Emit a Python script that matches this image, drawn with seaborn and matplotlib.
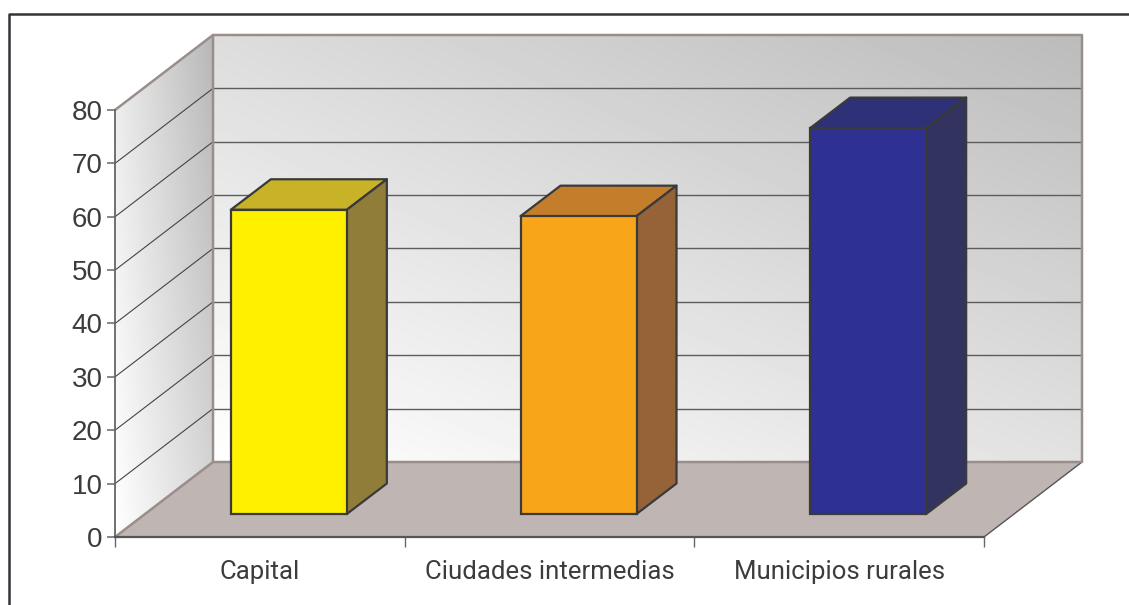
import numpy as np
import seaborn as sns
import matplotlib.pyplot as plt
from matplotlib.lines import Line2D
from matplotlib.patches import Polygon

categories = ["Capital", "Ciudades intermedias", "Municipios rurales"]
values = [57.0, 55.8, 72.3]
y_ticks = [0, 10, 20, 30, 40, 50, 60, 70, 80]

front_colors = ["#FFF000", "#F9A51A", "#2E3192"]
top_colors = ["#C8B228", "#C47E2B", "#2E3178"]
side_colors = ["#917D3A", "#966338", "#333360"]

W, H = 1129, 605
# front plane of the chart in pixels
X0, X1, Y0, Y80 = 115, 984, 537, 110
PX_X = (X1 - X0) / 3
PX_Y = (Y0 - Y80) / 80
# depth of the floor, in data units
DX = 98 / PX_X
DY = 75 / PX_Y
# where the bars sit inside the depth
BAR_SHIFT = 29 / PX_X
BAR_BOTTOM = 23 / PX_Y
BAR_DX = 40 / PX_X
BAR_DY = 30.5 / PX_Y
BAR_WIDTH = 116 / PX_X

WALL = "#9A8E8A"
EDGE = "#3A3A3A"
TEXT = "#3C3C3C"


def gradient(ax, extent, corners, clip):
    """Paint a grey gradient (ll, lr, ul, ur) clipped to a polygon."""
    u, v = np.meshgrid(np.linspace(0, 1, 128), np.linspace(0, 1, 128))
    ll, lr, ul, ur = corners
    img = ll * (1 - u) * (1 - v) + lr * u * (1 - v) + ul * (1 - u) * v + ur * u * v
    im = ax.imshow(img, extent=extent, origin="lower", cmap="gray", vmin=0, vmax=1,
                   aspect="auto", interpolation="bilinear", zorder=0)
    im.set_clip_path(Polygon(clip, transform=ax.transData))


sns.set_theme(style="white")
plt.rcParams["font.family"] = ["Liberation Sans", "DejaVu Sans"]

fig = plt.figure(figsize=(W / 100, H / 100), dpi=100)
ax = fig.add_axes([0, 0, 1, 1])
ax.patch.set_alpha(0)

xlim = (-0.5 - X0 / PX_X, -0.5 + (W - X0) / PX_X)
ylim = (-(H - Y0) / PX_Y, Y0 / PX_Y)
xl, xr = -0.5, 2.5
top = y_ticks[-1]

# back wall and left wall
gradient(ax, (xl + DX, xr + DX, DY, top + DY), (1.0, 0.885, 0.865, 0.735),
         [(xl + DX, DY), (xr + DX, DY), (xr + DX, top + DY), (xl + DX, top + DY)])
gradient(ax, (xl, xl + DX, 0, top + DY), (1.0, 0.84, 0.92, 0.72),
         [(xl, 0), (xl + DX, DY), (xl + DX, top + DY), (xl, top)])

# gridlines over both walls
for v in y_ticks[1:-1]:
    ax.plot([xl, xl + DX], [v, v + DY], color="#444444", lw=0.8, zorder=1)
    ax.plot([xl + DX, xr + DX], [v + DY, v + DY], color="#5C5C5C", lw=1.0, zorder=1)

# floor
ax.add_patch(Polygon([(xl, 0), (xr, 0), (xr + DX, DY), (xl + DX, DY)],
                     facecolor="#BFB5B2", edgecolor="none", zorder=1.5))
ax.plot([xr, xr + DX], [0, DY], color="#555555", lw=1, zorder=1.6)

# wall outlines
ax.plot([xl, xl + DX, xl + DX], [0, DY, top + DY], color=WALL, lw=1.8, zorder=1.7)
ax.plot([xl + DX, xr + DX, xr + DX, xl + DX, xl],
        [DY, DY, top + DY, top + DY, top], color=WALL, lw=1.8, zorder=1.7)

sns.barplot(x=categories, y=values, hue=categories, palette=front_colors, saturation=1,
            width=BAR_WIDTH, edgecolor=EDGE, linewidth=1.6, legend=False, ax=ax, zorder=3)

# turn the flat bars into boxes
for i, p in enumerate(ax.patches[-3:]):
    p.set_x(p.get_x() + BAR_SHIFT)
    p.set_y(BAR_BOTTOM)
    x, w, h = p.get_x(), p.get_width(), p.get_height()
    y_top = BAR_BOTTOM + h
    ax.add_patch(Polygon([(x, y_top), (x + w, y_top), (x + w + BAR_DX, y_top + BAR_DY), (x + BAR_DX, y_top + BAR_DY)],
                         facecolor=top_colors[i], edgecolor=EDGE, lw=1.6, joinstyle="round", zorder=2.8))
    ax.add_patch(Polygon([(x + w, BAR_BOTTOM), (x + w + BAR_DX, BAR_BOTTOM + BAR_DY), (x + w + BAR_DX, y_top + BAR_DY), (x + w, y_top)],
                         facecolor=side_colors[i], edgecolor=EDGE, lw=1.6, joinstyle="round", zorder=2.8))

ax.set_xlim(*xlim)
ax.set_ylim(*ylim)
ax.set_xlabel("")
ax.set_ylabel("")

for side in ["top", "right"]:
    ax.spines[side].set_visible(False)
ax.spines["left"].set_position(("data", xl))
ax.spines["left"].set_bounds(0, top)
ax.spines["left"].set_color("#666666")
ax.spines["left"].set_linewidth(1.3)
ax.spines["left"].set_zorder(2)
ax.spines["bottom"].set_position(("data", 0))
ax.spines["bottom"].set_bounds(xl, xr)
ax.spines["bottom"].set_color("#555555")
ax.spines["bottom"].set_linewidth(1.6)
ax.spines["bottom"].set_zorder(2)

ax.set_yticks(y_ticks)
ax.tick_params(axis="y", left=True, length=6, width=1.1, color="#666666", pad=3,
               labelsize=20, labelcolor=TEXT)
ax.set_xticks([0, 1, 2], categories)
ax.set_xticks([-0.5, 0.5, 1.5, 2.5], minor=True)
ax.tick_params(axis="x", which="major", bottom=False, length=0, pad=16.5, labelsize=18.5, labelcolor=TEXT)
ax.tick_params(axis="x", which="minor", bottom=True, length=7, width=1, color="#666666")
for t in ax.get_xticklabels():
    t.set_fontfamily(["Roboto", "DejaVu Sans"])

# outer frame, its bottom and right sides fall off the picture
fig.add_artist(Line2D([8.5 / W, 8.5 / W, 1], [0, 1 - 14 / H, 1 - 14 / H], color="#33333A", lw=1.8))

fig.savefig("out.png", dpi=100)
